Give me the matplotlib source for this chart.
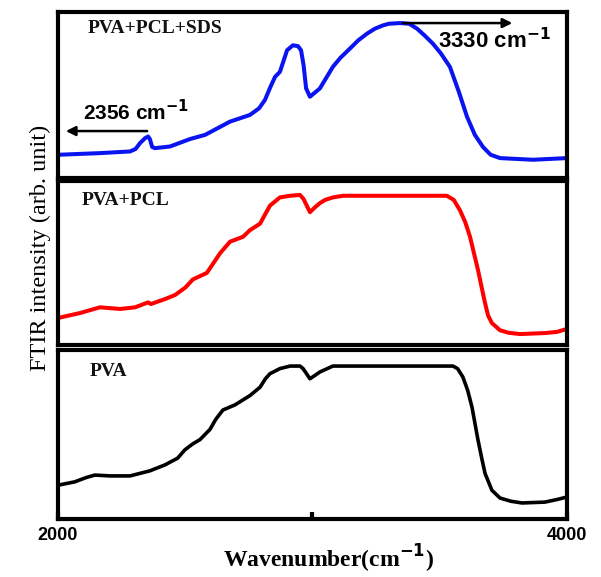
import matplotlib.pyplot as plt

# FTIR spectra (arbitrary units, 0-100 per panel)
wn_sds = [2000, 2165, 2283, 2305, 2322, 2342, 2354, 2361, 2370, 2381, 2440, 2519, 2578,
          2676, 2754, 2790, 2813, 2835, 2853, 2872, 2885, 2900, 2923, 2943, 2955, 2965,
          2975, 2990, 3029, 3080, 3110, 3147, 3180, 3214, 3245, 3277, 3300, 3344, 3380,
          3411, 3440, 3473, 3505, 3540, 3575, 3607, 3638, 3670, 3700, 3737, 3866, 4000]
int_sds = [14, 15, 16, 17.5, 21, 24, 25, 23.5, 18.7, 18, 19, 23.5, 26,
           34, 38, 42, 47, 55, 61, 64, 70, 77, 80, 79.5, 77, 68,
           54, 49, 54, 67, 72.5, 78, 83, 87, 90, 92, 93, 93.4, 93,
           90, 86, 81, 75, 67, 52, 37, 26, 18.7, 14, 12, 11, 12]

wn_pcl = [2000, 2086, 2165, 2244, 2303, 2354, 2365, 2420, 2460, 2500, 2530, 2585, 2637,
          2676, 2727, 2754, 2794, 2815, 2833, 2872, 2912, 2951, 2965, 2990, 3010, 3029,
          3050, 3080, 3120, 3147, 3528, 3555, 3580, 3600, 3619, 3650, 3665, 3678, 3690,
          3705, 3737, 3770, 3815, 3913, 3960, 4000]
int_pcl = [16.5, 19.5, 23, 22, 23, 26, 25, 28, 30.5, 35, 40, 44, 56,
           63, 66, 70, 74, 80, 85, 90, 91, 91.5, 89, 81, 84, 86.5,
           88.5, 90, 91, 91, 91, 88.5, 82, 75, 66, 46, 35, 25.6, 18,
           13.4, 9, 7.5, 6.7, 7.3, 8, 9.8]

wn_pva = [2000, 2066, 2110, 2145, 2204, 2283, 2361, 2420, 2470, 2499, 2530, 2558, 2597,
          2620, 2648, 2695, 2754, 2794, 2815, 2833, 2872, 2912, 2951, 2963, 2990, 3010,
          3029, 3080, 3552, 3570, 3591, 3610, 3627, 3650, 3665, 3678, 3705, 3737, 3780,
          3823, 3913, 3960, 4000]
int_pva = [20, 22, 24.5, 26, 25.5, 25.5, 28.5, 32, 36, 41, 44.5, 47, 53,
           59, 64.5, 67.5, 73, 78, 83, 86, 89, 90.5, 90.5, 89, 83, 85,
           87, 90.5, 90.5, 89, 84, 76, 66, 47, 36, 27, 17, 12.4, 10.5,
           9.5, 10, 11.5, 13]

panels = [
    (wn_sds, int_sds, '#0a14f0', 'PVA+PCL+SDS', [0.979, 0.6915], (0.059, 0.90)),
    (wn_pcl, int_pcl, '#ff0000', 'PVA+PCL', [0.6863, 0.402], (0.047, 0.884)),
    (wn_pva, int_pva, 'black', 'PVA', [0.3934, 0.1005], (0.063, 0.87)),
]

fig = plt.figure(figsize=(6.01, 5.77), dpi=100)
left, width = 0.0965, 0.8469
axes = []
for wn, val, color, name, (top, bottom), (tx, ty) in panels:
    ax = fig.add_axes([left, bottom, width, top - bottom])
    ax.plot(wn, val, color=color, linewidth=2.9 if color != 'black' else 2.6,
            solid_joinstyle='round', solid_capstyle='round')
    ax.set_xlim(2000, 4000)
    ax.set_ylim(0, 100)
    ax.set_yticks([])
    ax.set_xticks([])
    for sp in ax.spines.values():
        sp.set_linewidth(3)
    ax.text(tx, ty, name, transform=ax.transAxes, fontsize=14, fontweight='bold',
            family='Liberation Serif', color='#111111', va='center', ha='left')
    axes.append(ax)

# peak arrows in the top panel
top_ax = axes[0]
top_ax.annotate('', xy=(2020, 28.3), xytext=(2361, 28.3),
                arrowprops=dict(arrowstyle='-|>', color='black', lw=1.8,
                                mutation_scale=14))
top_ax.text(2100, 35, '2356 cm$^{\\mathbf{-1}}$', fontsize=15, fontweight='bold',
            family='Liberation Sans', va='baseline', ha='left')
top_ax.annotate('', xy=(3796, 93.4), xytext=(3344, 93.4),
                arrowprops=dict(arrowstyle='-|>', color='black', lw=1.8,
                                mutation_scale=14))
top_ax.text(3495, 78, '3330 cm$^{\\mathbf{-1}}$', fontsize=16, fontweight='bold',
            family='Liberation Sans', va='baseline', ha='left')

bot_ax = axes[2]
bot_ax.set_xticks([2000, 3000, 4000])
bot_ax.set_xticklabels(['2000', '', '4000'], fontsize=13, fontweight='bold',
                       family='Liberation Sans')
bot_ax.tick_params(axis='x', direction='in', length=5, width=3, pad=6)

fig.text(0.547, 0.017, 'Wavenumber(cm$^{\\mathbf{-1}}$)', fontsize=17, fontweight='bold',
         family='Liberation Serif', va='baseline', ha='center')
fig.text(0.067, 0.57, 'FTIR intensity (arb. unit)', rotation=90, fontsize=17.5,
         family='Liberation Serif', va='center', ha='center')

plt.savefig('out.png', dpi=100)
